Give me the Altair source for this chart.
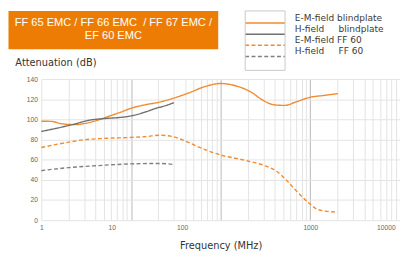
import altair as alt
import pandas as pd

# ---- data ----
series_ids = ["EM blind", "H blind", "EM FF60", "H FF60"]
series_labels = [
    "E-M-field blindplate",
    "H-field\u00a0\u00a0\u00a0\u00a0\u00a0blindplate",
    "E-M-field FF 60",
    "H-field\u00a0\u00a0\u00a0\u00a0\u00a0FF 60",
]
series_colors = ["#F28A2E", "#707070", "#F28A2E", "#808080"]
series_dash = [[1, 0], [1, 0], [4, 2.5], [4, 2.5]]

banner_lines = ["FF 65 EMC / FF 66 EMC\u00a0 / FF 67 EMC /", "EF 60 EMC"]

em_blind_f = [1, 1.3, 1.7, 2.4, 2.9, 3.9, 5.5, 7.7, 10, 15, 20, 29, 44, 67, 100, 143, 217, 302, 405, 520, 700, 1000, 1360, 2030]
em_blind_v = [98.2, 98, 95.6, 94.8, 95.6, 98.2, 102.7, 107.2, 111, 114.8, 116.8, 120.7, 126.2, 132.6, 135.6, 133.6, 127.2, 118.5, 114.3, 113.9, 117.5, 122, 123.6, 125.5]

h_blind_f = [1, 1.7, 2.4, 3.3, 5, 7.7, 10.7, 15, 19, 23, 30]
h_blind_v = [88, 92.4, 95.6, 98.9, 100.8, 102, 104, 107.8, 111, 113, 116.5]

em_ff60_f = [1, 1.9, 3, 5, 10, 15, 21, 29, 41, 57, 79, 111, 155, 205, 300, 420, 550, 700, 950, 1170, 1480, 2015]
em_ff60_v = [72.1, 77, 79.8, 81.1, 82.1, 83, 84.3, 83, 78.2, 72.6, 67.6, 63.6, 61, 58.5, 54.5, 48.5, 39, 29, 17.5, 11.2, 9, 8.1]

h_ff60_f = [1, 2, 4, 9, 19, 25, 30]
h_ff60_v = [49.2, 52.1, 54, 55.7, 56.3, 56, 55.2]

y_ticks = [0, 20, 40, 60, 80, 100, 120, 140]
x_grid = [m * 10 ** d for d in range(4) for m in range(1, 10)] + [10000]
x_labels_main = [1000, 10000]
x_labels_low = [1, 10, 100]

rows = []
for sid, lab, fs, vs in zip(series_ids, series_labels,
                            [em_blind_f, h_blind_f, em_ff60_f, h_ff60_f],
                            [em_blind_v, h_blind_v, em_ff60_v, h_ff60_v]):
    for f, v in zip(fs, vs):
        rows.append({"f": f, "v": v, "series": sid, "label": lab, "banner": "b", "box": "k"})
df = pd.DataFrame(rows)

# legend sample lines (custom stroke path, 40.7 px long) and the frame drawn round them
line_path = "M-20.35,0H20.35"
box_path = "M-20.35,-30.3H20.35V30.3H-20.35Z"

legend_lines = alt.Legend(
    title=None, orient="none", legendX=223.35, legendY=-62.2, direction="vertical",
    symbolType=line_path, symbolSize=4, symbolStrokeWidth=1.5,
    labelExpr="'\u00a0'", labelFontSize=10, labelOpacity=0, labelOffset=0, labelAlign="right",
    padding=0, rowPadding=1.4,
)
legend_frame = alt.Legend(
    title=None, orient="none", legendX=226.85, legendY=-40.7, direction="vertical",
    symbolSize=4, symbolStrokeColor="#c8c8c8", symbolFillColor="transparent",
    symbolStrokeWidth=1, symbolOpacity=1, labelExpr="''", labelFontSize=1, padding=0,
)
legend_text = alt.Legend(
    title=None, orient="none", legendX=249.5, legendY=-66.4, direction="vertical",
    symbolSize=0, symbolStrokeWidth=0, symbolOpacity=0, labelFont="DejaVu Sans",
    labelFontSize=9.2, labelColor="#3a3a3a", labelOffset=0, padding=0, rowPadding=1.2,
    labelLimit=300,
)
legend_banner = alt.Legend(
    title=banner_lines, orient="none", legendX=-33.5, legendY=-69.5,
    fillColor="#EC7C04", padding=6, titleFont="Liberation Sans", titleFontSize=11.3,
    titleFontWeight="normal", titleColor="white", titleAnchor="middle", titleAlign="center",
    titleLineHeight=14, titlePadding=0, titleLimit=400, labelExpr="''", labelFontSize=1,
    symbolSize=0, symbolOpacity=0, symbolStrokeWidth=0,
)

tick_label_style = dict(labelFont="Liberation Sans", labelFontSize=6.8, labelColor="#666666",
                        labelPadding=4, ticks=False, domain=False, labelOverlap=False)

main_expr = " || ".join(f"datum.value == {v}" for v in x_labels_main)

y_enc = alt.Y("v:Q", scale=alt.Scale(domain=[0, 140], nice=False, zero=False),
              axis=alt.Axis(
                  values=y_ticks, title="Attenuation (dB)", titleAngle=0, titleAlign="left",
                  titleBaseline="alphabetic", titleX=-27, titleY=-13.5, titleFont="DejaVu Sans",
                  titleFontSize=10, titleFontWeight="normal", titleColor="#333333",
                  gridColor="#e3e3e3", **tick_label_style))

lines = alt.Chart(df).mark_line(interpolate="monotone", strokeCap="butt").encode(
    x=alt.X("f:Q", scale=alt.Scale(type="log", domain=[1, 10000], nice=False),
            axis=alt.Axis(
                orient="bottom", values=x_grid, format="d",
                labelExpr=f"({main_expr}) ? datum.label : ''",
                labelFlush=True, labelFlushOffset=-5,
                gridColor={"condition": {"test": "datum.value == 10 || datum.value == 100 || datum.value == 1000",
                                         "value": "#b8b8b8"}, "value": "#e3e3e3"},
                title="Frequency (MHz)", titleFont="DejaVu Sans", titleFontSize=10,
                titleFontWeight="normal", titleColor="#333333", titlePadding=10,
                **tick_label_style)),
    y=y_enc,
    color=alt.Color("series:N", scale=alt.Scale(domain=series_ids, range=series_colors), legend=legend_lines),
    strokeDash=alt.StrokeDash("series:N", scale=alt.Scale(domain=series_ids, range=series_dash), legend=legend_lines),
    opacity=alt.Opacity("label:O", scale=alt.Scale(domain=series_labels, range=[1, 1]), legend=legend_text),
    strokeWidth=alt.StrokeWidth("banner:O", scale=alt.Scale(domain=["b"], range=[1.4, 1.4]), legend=legend_banner),
)

# second, label-only axis reproducing the printed positions of the 1 / 10 / 100 labels;
# its (invisible) points also carry the legend frame
low_axis = alt.Chart(df).mark_point(opacity=0, size=1).encode(
    x=alt.X("f:Q", scale=alt.Scale(type="log", domain=[1, 124200], nice=False),
            axis=alt.Axis(orient="bottom", values=x_labels_low, format="d", grid=False,
                          title=None, labelFlush=False, **tick_label_style)),
    y=y_enc,
    shape=alt.Shape("box:N", scale=alt.Scale(domain=["k"], range=[box_path]), legend=legend_frame),
)

chart = alt.layer(lines, low_axis).resolve_scale(x="independent").properties(
    width=366, height=144,
    autosize=alt.AutoSizeParams(type="none"),
    padding={"left": 34, "top": 70, "right": 0, "bottom": 33},
).configure_view(stroke=None)

chart.save("out.html", embed_options={"renderer": "svg", "actions": False})
